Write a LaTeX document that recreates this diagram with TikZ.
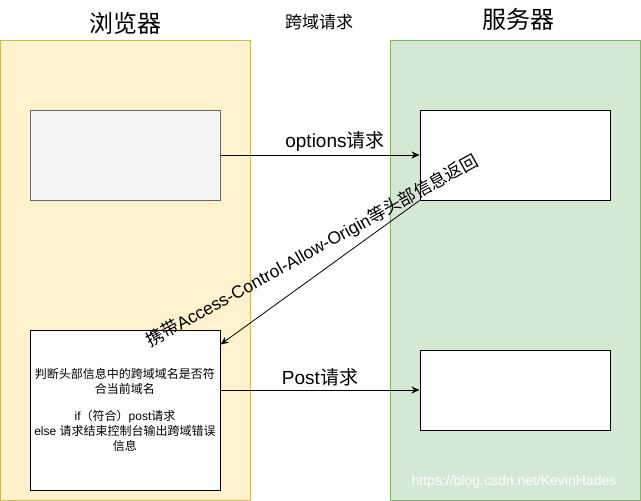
\documentclass[tikz,border=0pt]{standalone}
\usepackage{fontspec}
\setmainfont{Liberation Sans}
\newfontfamily\cjk{Noto Sans CJK SC}
\usetikzlibrary{arrows.meta}

\definecolor{laneyellow}{HTML}{FFF2CC}
\definecolor{laneyellowline}{HTML}{D6B656}
\definecolor{lanegreen}{HTML}{D5E8D4}
\definecolor{lanegreenline}{HTML}{82B366}
\definecolor{boxgray}{HTML}{F5F5F5}
\definecolor{boxgrayline}{HTML}{666666}

\newcommand\zh[1]{{\cjk #1}}

\begin{document}
\begin{tikzpicture}[x=1pt, y=-1pt,
  lane/.style={minimum width=250pt, minimum height=460pt, inner sep=0pt, line width=1pt},
  box/.style={draw, fill=white, minimum width=190pt, inner sep=0pt, line width=1pt},
  arr/.style={-{Stealth[length=8pt,width=7pt]}, line width=0.8pt},
  arrlabel/.style={font=\fontsize{19}{21}\selectfont}]

\useasboundingbox (0,0) rectangle (641,501);

% lanes
\node[lane, fill=laneyellow, draw=laneyellowline] (browser) at (125,270) {};
\node[lane, fill=lanegreen, draw=lanegreenline] (server) at (515,270) {};

\node (browsertitle) at (125,23) {\fontsize{24}{28}\selectfont\zh{浏览器}};
\node (servertitle) at (518,19) {\fontsize{24}{28}\selectfont\zh{服务器}};
\node (title) at (319,22) {\fontsize{17}{19}\selectfont\zh{跨域请求}};

% boxes
\node[box, fill=boxgray, draw=boxgrayline, minimum height=90pt] (req) at (125,155) {};
\node[box, minimum height=90pt] (resp) at (515,155) {};
\node[box, minimum height=160pt, align=center, font=\fontsize{12}{15}\selectfont] (check) at (125,410)
  {\zh{判断头部信息中的跨域域名是否符}\\\zh{合当前域名}\\[12pt]
   if\zh{（符合）}post\zh{请求}\\else \zh{请求结束控制台输出跨域错误}\\\zh{信息}};
\node[box, minimum height=80pt] (post) at (515,390) {};

% arrows
\draw[arr] (req.east) -- (resp.west) node[arrlabel, midway, above=0pt, xshift=15pt] {options\zh{请求}};
\draw[arr] (resp.south west) -- ([yshift=-15pt]check.north east)
  node[pos=0.54, yshift=27pt, rotate=29, font=\fontsize{17.5}{20}\selectfont]
  {\zh{携带}Access-Control-Allow-Origin\zh{等头部信息返回}};
\draw[arr] (check.east |- post.west) -- (post.west) node[arrlabel, midway, above=0pt] {Post\zh{请求}};

\node[text=white, font=\fontsize{14}{16}\selectfont] (mark) at (514,482) {https://blog.csdn.net/KevinHades};

\end{tikzpicture}
\end{document}
